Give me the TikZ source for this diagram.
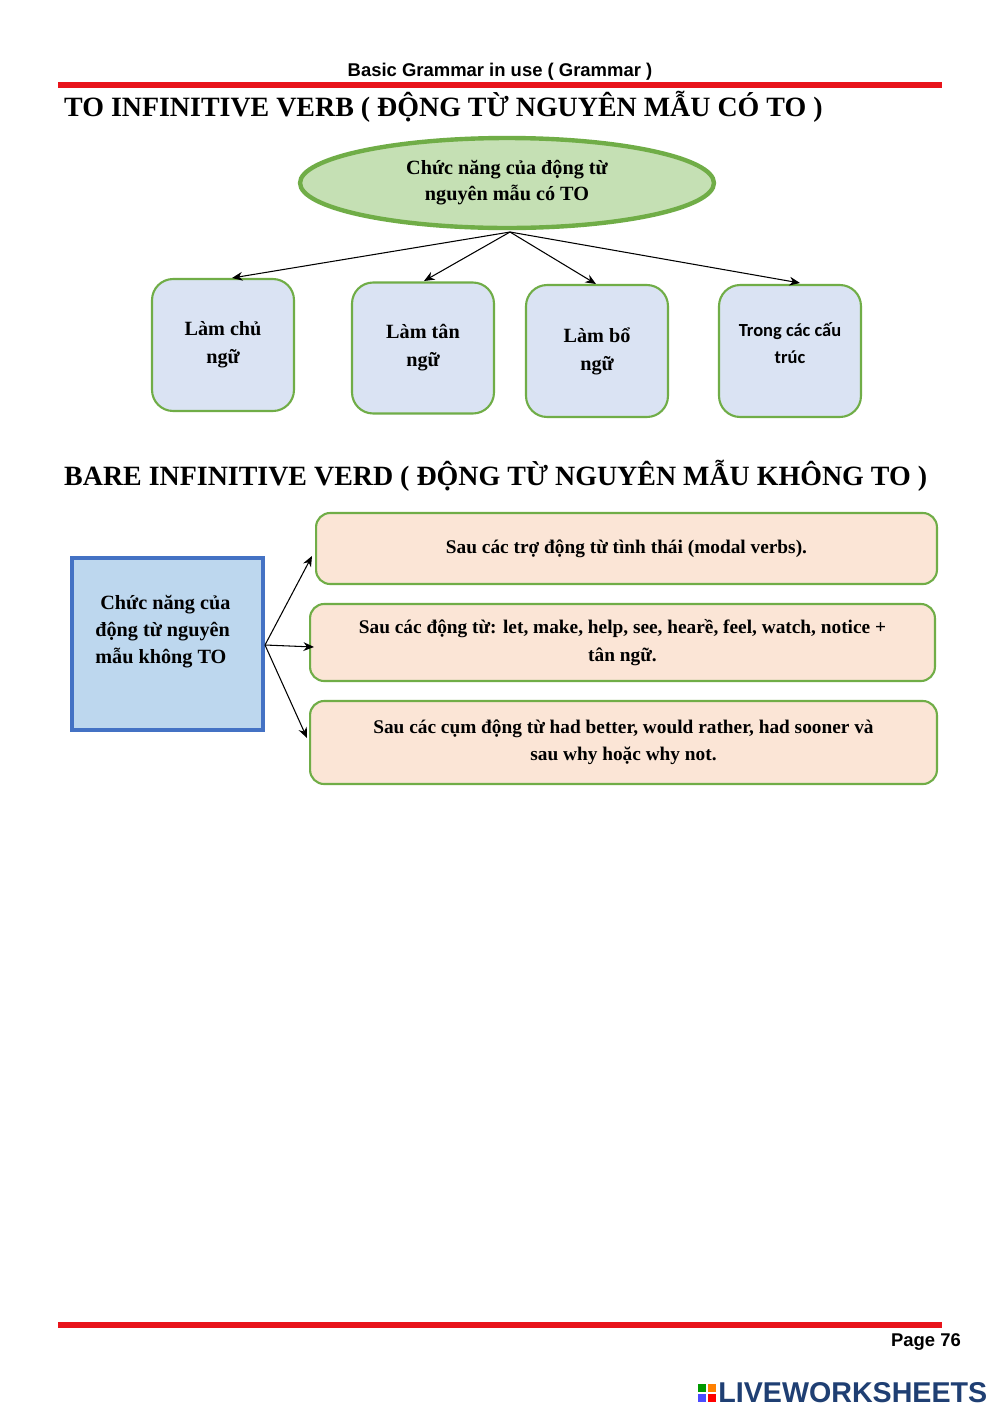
\documentclass[tikz,border=0pt]{standalone}
\usepackage{fontspec}
\setmainfont{Liberation Serif}
\newfontfamily\hsans{Liberation Sans}
\newfontfamily\calib{Carlito}
\usetikzlibrary{arrows.meta,shapes.geometric}
\definecolor{gborder}{HTML}{70AD47}
\definecolor{gfill}{HTML}{C5E0B4}
\definecolor{bfill}{HTML}{DAE3F3}
\definecolor{lbfill}{HTML}{BDD7EE}
\definecolor{bborder}{HTML}{4472C4}
\definecolor{ofill}{HTML}{FBE5D6}
\definecolor{redl}{HTML}{E8141B}
\definecolor{lwblue}{HTML}{1F3F73}
\tikzset{
 x=0.02cm,y=-0.02cm,
 bluebox/.style={draw=gborder,fill=bfill,line width=1.2pt,rounded corners=12pt,align=center,font=\bfseries\fontsize{11.5}{16}\selectfont},
 orbox/.style={draw=gborder,fill=ofill,line width=1.2pt,rounded corners=8pt,align=center,font=\bfseries\fontsize{11}{15.5}\selectfont},
 arr/.style={-{Stealth[length=6pt,width=5pt]},line width=0.6pt},
 title/.style={anchor=west,font=\bfseries\fontsize{15.9}{18}\selectfont},
 redline/.style={draw=redl,line width=3pt}
}
\begin{document}
\begin{tikzpicture}
\useasboundingbox (0,0) rectangle (1000,1414);
\fill[white] (0,0) rectangle (1000,1414);
\node[font=\hsans\bfseries\fontsize{10.5}{12}\selectfont] (hdr) at (500,72) {Basic Grammar in use ( Grammar )};
\draw[redline] (58,85) -- (942,85);
\node[title] (t1) at (58,107) {TO INFINITIVE VERB ( ĐỘNG TỪ NGUYÊN MẪU CÓ TO )};
\node[ellipse,draw=gborder,fill=gfill,line width=2.5pt,minimum width=8.28cm,minimum height=1.8cm,inner sep=0pt,align=center,font=\bfseries\fontsize{11.5}{14.7}\selectfont] (el) at (507,183) {Chức năng của động từ\\nguyên mẫu có TO};
\coordinate (top) at (510,232);
\node[bluebox,minimum width=2.84cm,minimum height=2.64cm] (b1) at (223,345) {Làm chủ\\ngữ};
\node[bluebox,minimum width=2.84cm,minimum height=2.62cm] (b2) at (423,348) {Làm tân\\ngữ};
\node[bluebox,minimum width=2.84cm,minimum height=2.64cm] (b3) at (597,351) {Làm bổ\\ngữ};
\node[bluebox,minimum width=2.84cm,minimum height=2.64cm] (b4) at (790,351) {};
\node[align=center,font=\calib\bfseries\fontsize{10.5}{15}\selectfont] (b4t) at (790,343) {Trong các cấu\\trúc};
\draw[arr] (top) -- (232,278);
\draw[arr] (top) -- (424,281);
\draw[arr] (top) -- (596,284);
\draw[arr] (top) -- (800,283);
\node[title] (t2) at (58,476) {BARE INFINITIVE VERD ( ĐỘNG TỪ NGUYÊN MẪU KHÔNG TO )};
\node[draw=bborder,fill=lbfill,line width=2pt,minimum width=3.82cm,minimum height=3.44cm] (lb) at (167.5,644) {};
\node[align=left,anchor=north west,inner sep=0pt,font=\bfseries\fontsize{11.5}{15.3}\selectfont] (lbt) at (95,595) {\ Chức năng của\\động từ nguyên\\mẫu không TO};
\node[orbox,minimum width=12.42cm,minimum height=1.42cm] (r1) at (626.5,548.5) {Sau các trợ động từ tình thái (modal verbs).};
\node[orbox,minimum width=12.5cm,minimum height=1.54cm] (r2) at (622.5,642.5) {Sau các động từ: let, make, help, see, hearề, feel, watch, notice +\\tân ngữ.};
\node[orbox,minimum width=12.54cm,minimum height=1.66cm] (r3) at (623.5,742.5) {Sau các cụm động từ had better, would rather, had sooner và\\sau why hoặc why not.};
\coordinate (ls) at (265,645);
\draw[arr] (ls) -- (312,556);
\draw[arr] (ls) -- (314,647);
\draw[arr] (ls) -- (307,738);
\draw[redline] (58,1325) -- (942,1325);
\node[anchor=east,font=\hsans\bfseries\fontsize{10.5}{12}\selectfont] (pg) at (967,1342) {Page 76};
\fill[green!60!black] (698,1384) rectangle (706,1392);
\fill[orange] (708,1384) rectangle (716,1392);
\fill[blue!70] (698,1394) rectangle (706,1402);
\fill[red] (708,1394) rectangle (716,1402);
\node[anchor=west,text=lwblue,font=\hsans\bfseries\fontsize{16.3}{18}\selectfont,inner sep=0pt] (lw) at (718,1393) {LIVEWORKSHEETS};
\end{tikzpicture}
\end{document}
